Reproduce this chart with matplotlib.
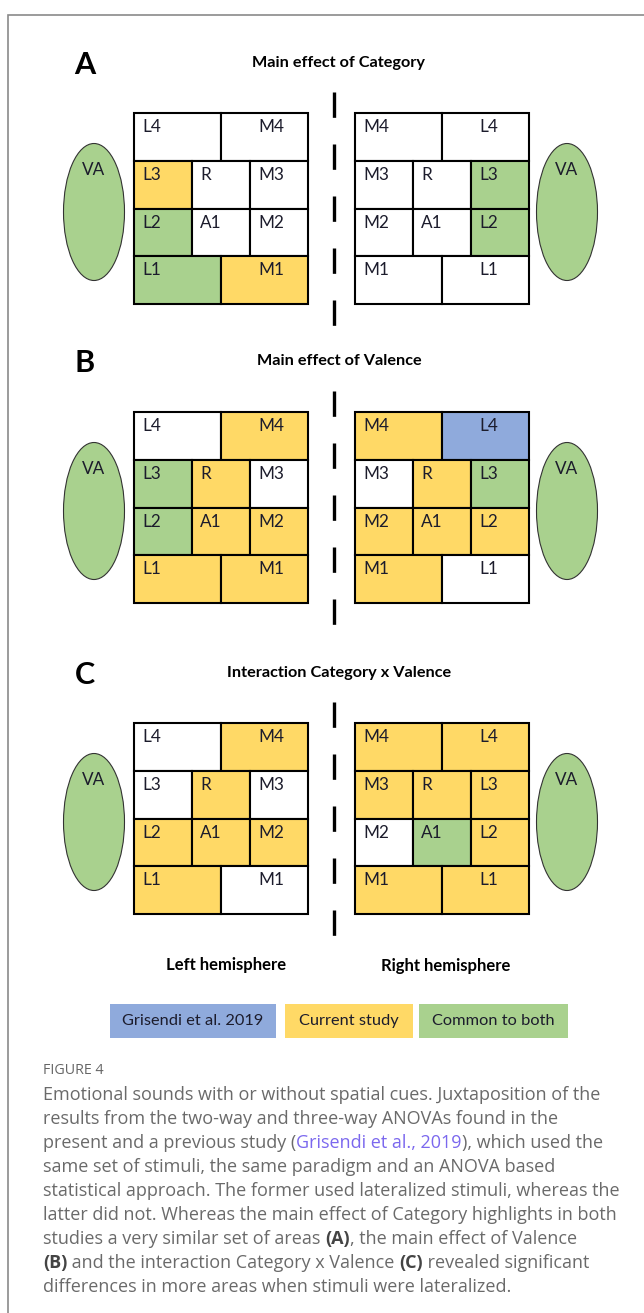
#!/usr/bin/env python
# coding: utf-8

"""
Figure 4: areas showing effects in the current vs previous study
"""

import matplotlib
matplotlib.use("Agg")
import matplotlib.pyplot as plt
from matplotlib.patches import Rectangle, Ellipse

# ---- data -----------------------------------------------------------------
colours = {"W": "#FFFFFF", "Y": "#FFD966", "G": "#A9D18E", "B": "#8FAADC"}

# grid layout: (row, col_start, col_span); 3 columns x 4 rows
cell_layout = [(0, 0, 1.5), (0, 1.5, 1.5),
               (1, 0, 1), (1, 1, 1), (1, 2, 1),
               (2, 0, 1), (2, 1, 1), (2, 2, 1),
               (3, 0, 1.5), (3, 1.5, 1.5)]
# label column (labels sit at the left edge of a third-column)
label_col = [0, 2, 0, 1, 2, 0, 1, 2, 0, 2]

left_names = ["L4", "M4", "L3", "R", "M3", "L2", "A1", "M2", "L1", "M1"]
right_names = ["M4", "L4", "M3", "R", "L3", "M2", "A1", "L2", "M1", "L1"]

panel_letters = ["A", "B", "C"]
panel_titles = ["Main effect of Category", "Main effect of Valence",
                "Interaction Category x Valence"]

left_fill = [
    ["W", "W", "Y", "W", "W", "G", "W", "W", "G", "Y"],
    ["W", "Y", "G", "Y", "W", "G", "Y", "Y", "Y", "Y"],
    ["W", "Y", "W", "Y", "W", "Y", "Y", "Y", "Y", "W"],
]
right_fill = [
    ["W", "W", "W", "W", "G", "W", "W", "G", "W", "W"],
    ["Y", "B", "W", "Y", "G", "Y", "Y", "Y", "Y", "W"],
    ["Y", "Y", "Y", "Y", "Y", "W", "G", "Y", "Y", "Y"],
]

legend_labels = ["Grisendi et al. 2019", "Current study", "Common to both"]
legend_keys = ["B", "Y", "G"]

caption_lines = [
    [("Emotional sounds with or without spatial cues. Juxtaposition of the", "n")],
    [("results from the two-way and three-way ANOVAs found in the", "n")],
    [("present and a previous study (", "n"), ("Grisendi et al., 2019", "l"),
     ("), which used the", "n")],
    [("same set of stimuli, the same paradigm and an ANOVA based", "n")],
    [("statistical approach. The former used lateralized stimuli, whereas the", "n")],
    [("latter did not. Whereas the main effect of Category highlights in both", "n")],
    [("studies a very similar set of areas ", "n"), ("(A)", "b"),
     (", the main effect of Valence", "n")],
    [("(B)", "b"), (" and the interaction Category x Valence ", "n"),
     ("(C)", "b"), (" revealed significant", "n")],
    [("differences in more areas when stimuli were lateralized.", "n")],
]


def draw_grid(ax, x0, y0, names, fills, cw=58.0, ch=47.8):
    for (row, c0, span), name, key, lc in zip(cell_layout, names, fills,
                                               label_col):
        ax.add_patch(Rectangle((x0 + c0 * cw, y0 + row * ch), span * cw, ch,
                               facecolor=colours[key], edgecolor="black",
                               linewidth=1.5, zorder=2))
        ax.text(x0 + lc * cw + 8, y0 + row * ch + 14, name, fontsize=12.3,
                family="Lato", color="#1c1c2c", ha="left", va="center",
                zorder=3)


def main():

    fig = plt.figure(figsize=(6.44, 13.13), dpi=100)
    ax = fig.add_axes([0, 0, 1, 1])
    ax.set_xlim(0, 644)
    ax.set_ylim(1313, 0)
    ax.axis("off")

    # card border
    ax.plot([8, 8, 644], [1313, 15, 15], color="#8a8a8a", linewidth=1.2,
            solid_joinstyle="miter")

    panel_top = [113, 412, 723]
    title_y = [63, 361, 673]

    for i in range(3):
        top = panel_top[i]
        ax.text(85, title_y[i] + 2, panel_letters[i], fontsize=22,
                fontweight="bold", family="Lato", ha="center", va="center")
        ax.text(339, title_y[i], panel_titles[i], fontsize=11.7,
                fontweight="bold", family="Lato", ha="center", va="center")

        draw_grid(ax, 134, top, left_names, left_fill[i])
        draw_grid(ax, 355, top, right_names, right_fill[i])

        for cx in (94, 567):
            ax.add_patch(Ellipse((cx, top + 99), 61, 137,
                                 facecolor=colours["G"], edgecolor="#333333",
                                 linewidth=0.8, zorder=2))
            ax.text(cx, top + 57, "VA", fontsize=12.3, family="Lato",
                    color="#1c1c2c", ha="center", va="center", zorder=3)

        ax.plot([334, 334], [top - 21, top + 215], color="black",
                linewidth=2.4, dashes=(7.6, 8.0), solid_capstyle="butt",
                dash_capstyle="butt")

    ax.text(226, 965, "Left hemisphere", fontsize=12, fontweight="bold",
            family="Lato", ha="center", va="center")
    ax.text(446, 966, "Right hemisphere", fontsize=12, fontweight="bold",
            family="Lato", ha="center", va="center")

    leg_x = [110, 285, 419]
    leg_w = [166, 128, 149]
    for x, w, lab, key in zip(leg_x, leg_w, legend_labels, legend_keys):
        ax.add_patch(Rectangle((x, 1004), w, 34, facecolor=colours[key],
                               edgecolor="none"))
        ax.text(x + w / 2, 1021, lab, fontsize=11.8, family="Lato",
                color="#1c1c2c", ha="center", va="center")

    # caption
    ax.text(43, 1070, "FIGURE 4", fontsize=10.3, family="Open Sans",
            color="#666666", ha="left", va="center")
    fig.canvas.draw()
    renderer = fig.canvas.get_renderer()
    inv = ax.transData.inverted()
    styles = {"n": dict(color="#6a6a6a", fontweight="normal"),
              "b": dict(color="#444444", fontweight="bold"),
              "l": dict(color="#7b68ee", fontweight="normal")}
    for k, line in enumerate(caption_lines):
        x = 43
        y = 1095 + 24 * k
        for txt, st in line:
            t = ax.text(x, y, txt, fontsize=13.0, family="Open Sans",
                        ha="left", va="center", **styles[st])
            bb = t.get_window_extent(renderer)
            x = inv.transform((bb.x1, bb.y0))[0]

    fig.savefig("out.png", dpi=100)


if __name__ == "__main__":
    main()
